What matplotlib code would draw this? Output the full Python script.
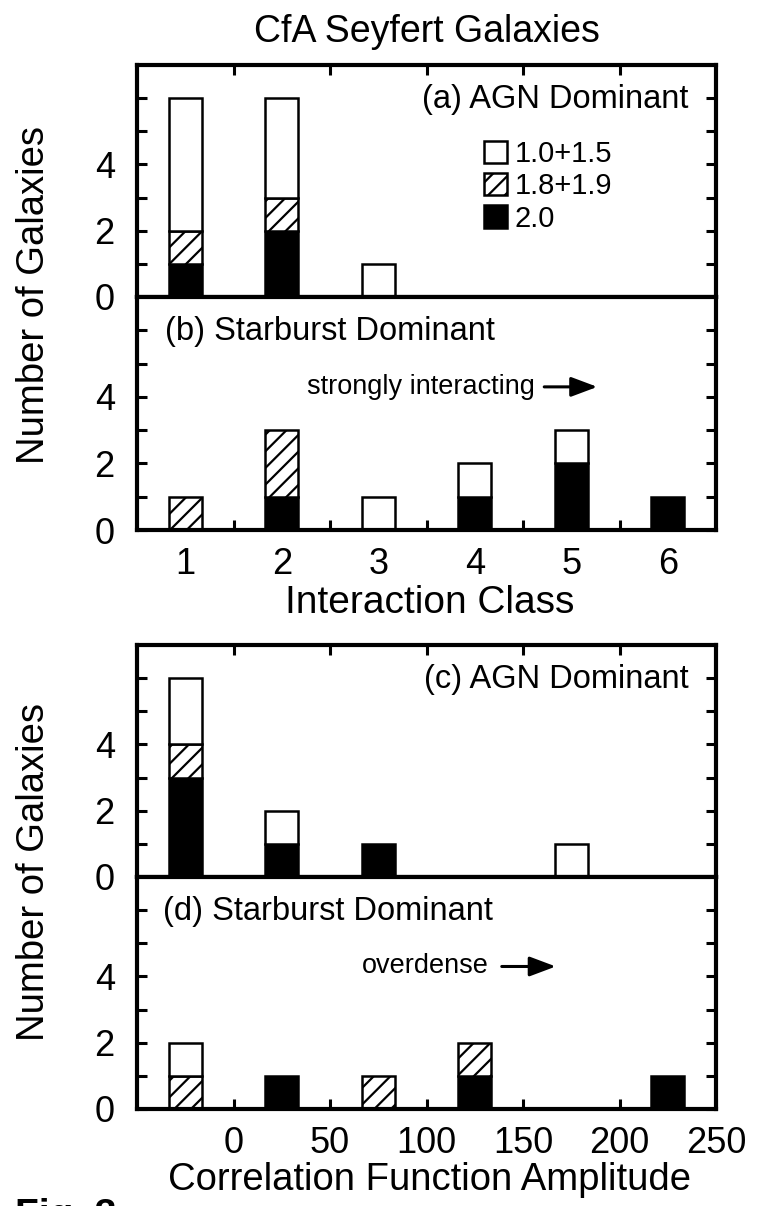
import matplotlib
matplotlib.use("Agg")
import matplotlib.pyplot as plt
from matplotlib.patches import Patch
from matplotlib.ticker import FixedLocator

plt.rcParams["font.family"] = ["Liberation Sans", "DejaVu Sans"]
plt.rcParams["hatch.linewidth"] = 1.6
plt.rcParams["hatch.color"] = "black"

# interaction class histograms (a) AGN dominant, (b) starburst dominant
class_x = [1, 2, 3, 4, 5, 6]
a_sy2 = [1, 2, 0, 0, 0, 0]
a_sy18 = [1, 1, 0, 0, 0, 0]
a_sy1 = [4, 3, 1, 0, 0, 0]
b_sy2 = [0, 1, 0, 1, 2, 1]
b_sy18 = [1, 2, 0, 0, 0, 0]
b_sy1 = [0, 0, 1, 1, 1, 0]

# correlation function amplitude histograms (c) AGN, (d) starburst
amp_x = [-25, 25, 75, 125, 175, 225]
c_sy2 = [3, 1, 1, 0, 0, 0]
c_sy18 = [1, 0, 0, 0, 0, 0]
c_sy1 = [2, 1, 0, 0, 1, 0]
d_sy2 = [0, 1, 0, 1, 0, 1]
d_sy18 = [1, 0, 1, 1, 0, 0]
d_sy1 = [1, 0, 0, 0, 0, 0]

class_ticks = [1, 2, 3, 4, 5, 6]
amp_ticks = [0, 50, 100, 150, 200, 250]
legend_labels = ["1.0+1.5", "1.8+1.9", "2.0"]

W, H = 758, 1206
LEFT, RIGHT = 137, 716
TICK_SIZE = 26


def ax_rect(top, bottom):
    return [LEFT / W, 1 - bottom / H, (RIGHT - LEFT) / W, (bottom - top) / H]


def draw_stack(ax, x, sy2, sy18, sy1, width):
    layers = [
        (sy2, dict(facecolor="black", hatch=None)),
        (sy18, dict(facecolor="white", hatch="//")),
        (sy1, dict(facecolor="white", hatch=None)),
    ]
    base = [0] * len(x)
    for values, style in layers:
        for i, v in enumerate(values):
            if v > 0:
                ax.bar(x[i], v, width=width, bottom=base[i], edgecolor="black",
                       linewidth=1.8, zorder=2, **style)
        base = [b + v for b, v in zip(base, values)]


def style_axes(ax, top_ticks, bottom_ticks, labels=None):
    for s in ax.spines.values():
        s.set_linewidth(3.0)
    ax.set_ylim(0, 7)
    ax.yaxis.set_major_locator(FixedLocator([0, 2, 4]))
    ax.yaxis.set_minor_locator(FixedLocator([1, 3, 5, 6]))
    ax.tick_params(axis="y", which="both", direction="in", length=7, width=2.2,
                   left=True, right=True, labelsize=TICK_SIZE, pad=16)
    ax.tick_params(axis="x", which="both", direction="in", length=7, width=2.2,
                   labelsize=TICK_SIZE)
    if labels is None:
        ax.xaxis.set_major_locator(FixedLocator([]))
        ax.xaxis.set_minor_locator(FixedLocator(top_ticks or bottom_ticks))
        ax.tick_params(axis="x", which="minor", top=bool(top_ticks),
                       bottom=bool(bottom_ticks))
    else:
        ax.set_xticks(labels[0])
        ax.set_xticklabels([str(v) for v in labels[0]])
        ax.xaxis.set_minor_locator(FixedLocator(bottom_ticks))
        ax.tick_params(axis="x", which="major", length=labels[1], top=False,
                       bottom=True, pad=12)
        ax.tick_params(axis="x", which="minor", top=False, bottom=True)


def main() -> None:
    fig = plt.figure(figsize=(W / 100, H / 100), dpi=100)

    ax_a = fig.add_axes(ax_rect(65, 297))
    ax_b = fig.add_axes(ax_rect(297, 530))
    ax_c = fig.add_axes(ax_rect(645, 877))
    ax_d = fig.add_axes(ax_rect(877, 1109))

    half_ticks = [1.5, 2.5, 3.5, 4.5, 5.5]
    amp_minor = [0, 50, 100, 150, 200]

    for ax in (ax_a, ax_b):
        ax.set_xlim(0.5, 6.5)
    for ax in (ax_c, ax_d):
        ax.set_xlim(-50, 250)

    draw_stack(ax_a, class_x, a_sy2, a_sy18, a_sy1, 0.34)
    draw_stack(ax_b, class_x, b_sy2, b_sy18, b_sy1, 0.34)
    draw_stack(ax_c, amp_x, c_sy2, c_sy18, c_sy1, 17)
    draw_stack(ax_d, amp_x, d_sy2, d_sy18, d_sy1, 17)

    style_axes(ax_a, half_ticks, None)
    style_axes(ax_b, None, half_ticks, labels=(class_ticks, 0))
    style_axes(ax_c, amp_minor, None)
    style_axes(ax_d, None, amp_minor, labels=(amp_ticks, 7))

    ax_a.text(0.953, 0.85, "(a) AGN Dominant", transform=ax_a.transAxes,
              ha="right", va="center", fontsize=23.5)
    ax_b.text(0.048, 0.85, "(b) Starburst Dominant", transform=ax_b.transAxes,
              ha="left", va="center", fontsize=23.5)
    ax_c.text(0.953, 0.85, "(c) AGN Dominant", transform=ax_c.transAxes,
              ha="right", va="center", fontsize=23.5)
    ax_d.text(0.045, 0.85, "(d) Starburst Dominant", transform=ax_d.transAxes,
              ha="left", va="center", fontsize=23.5)

    arrow = dict(arrowstyle="-|>,head_length=0.8,head_width=0.3", color="black",
                 lw=2.2, mutation_scale=20, shrinkA=0, shrinkB=0)
    ax_b.text(4.62, 4.3, "strongly interacting", ha="right", va="center", fontsize=19.5)
    ax_b.annotate("", xy=(5.27, 4.3), xytext=(4.72, 4.3), arrowprops=arrow)
    ax_d.text(132, 4.3, "overdense", ha="right", va="center", fontsize=19.5)
    ax_d.annotate("", xy=(167, 4.3), xytext=(139, 4.3), arrowprops=arrow)

    handles = [
        Patch(facecolor="white", edgecolor="black", linewidth=1.8),
        Patch(facecolor="white", edgecolor="black", linewidth=1.8, hatch="//"),
        Patch(facecolor="black", edgecolor="black", linewidth=1.8),
    ]
    ax_a.legend(handles, legend_labels, loc="upper left",
                bbox_to_anchor=((484 - LEFT) / (RIGHT - LEFT), (297 - 140) / 232),
                frameon=False, fontsize=21, handlelength=0.8, handleheight=0.8,
                handletextpad=0.25, labelspacing=0.15, borderpad=0, borderaxespad=0)

    fig.text(427 / W, 1 - 32 / H, "CfA Seyfert Galaxies", ha="center", va="center",
             fontsize=27)
    fig.text(430 / W, 1 - 603 / H, "Interaction Class", ha="center", va="center",
             fontsize=28)
    fig.text(430 / W, 1 - 1180 / H, "Correlation Function Amplitude", ha="center",
             va="center", fontsize=27.5)
    for yc in (295, 872):
        fig.text(34 / W, 1 - yc / H, "Number of Galaxies", rotation=90,
                 ha="center", va="center", fontsize=27.5)
    fig.text(15 / W, 1 - 1198 / H, "Fig. 3", ha="left", va="top", fontsize=28,
             fontweight="bold")

    fig.savefig("out.png", dpi=100)


if __name__ == "__main__":
    main()
